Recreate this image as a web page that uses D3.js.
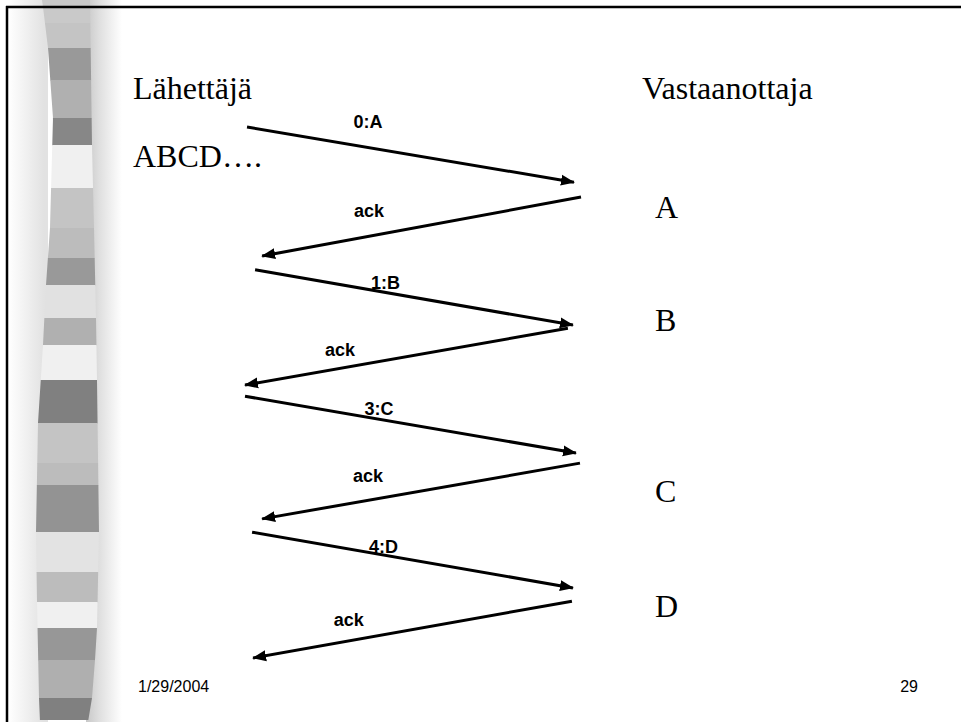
<!DOCTYPE html>
<html><head><meta charset="utf-8">
<script src="https://cdn.jsdelivr.net/npm/d3@7"></script>
<style>html,body{margin:0;padding:0;background:#fff;} svg{display:block}</style>
</head><body><svg id="c" width="961" height="722"></svg>
<script>
// ---- data ----
const messages   = ["0:A", "ack", "1:B", "ack", "3:C", "ack", "4:D", "ack"];
const sendTime   = [0, 13.2, 26.9, 37.9, 50.7, 63.3, 76.3, 89.3];
const recvTime   = [10.4, 24.3, 37.3, 48.6, 61.4, 73.8, 86.8, 100];
const sendPos    = [0.6, 100, 3.0, 96.1, 0, 99.7, 2.1, 97.3];
const recvPos    = [97.9, 5.1, 97.6, 0, 98.5, 5.1, 97.6, 2.4];
const labelAt    = [0.37, 0.665, 0.41, 0.706, 0.405, 0.667, 0.41, 0.70];
const received   = ["A", "B", "C", "D"];
const receivedAt = [17.1, 38.4, 70.6, 92.3];
const senderTitle = "Lähettäjä";
const receiverTitle = "Vastaanottaja";
const senderData = "ABCD….";
const footerDate = "1/29/2004";
const footerPage = "29";
// decorative stripe
const stripeColors = ["#c9c9c9","#c4c4c4","#999999","#b0b0b0","#878787","#f0f0f0","#c4c4c4","#bcbcbc","#999999","#e1e1e1","#b0b0b0","#f0f0f0","#808080","#c4c4c4","#bcbcbc","#939393","#e3e3e3","#bcbcbc","#f0f0f0","#979797","#afafaf","#808080"];
const stripeEnds   = [23,48,80,118,145,188,228,258,285,318,345,380,423,463,485,532,572,602,628,660,698,722];
const stripeLeftY  = [0,7,48,118,228,285,345,423,532,602,698,722];
const stripeLeftX  = [42,43,48,53,50,46,43,38,36,37,39,40];
const stripeRightY = [0,145,228,318,380,532,628,660,698,722];
const stripeRightX = [90,92,94,96,97,99,97,95,92,88];

// ---- layout ----
const W = 961, H = 722;
const svg = d3.select("#c");
const defs = svg.append("defs");
svg.append("rect").attr("width", W).attr("height", H).attr("fill", "#fff");

const x = d3.scaleLinear().domain([0, 100]).range([245, 581]);
const y = d3.scaleLinear().domain([0, 100]).range([127, 658]);

// stripe shading
const gL = defs.append("linearGradient").attr("id","gl").attr("gradientUnits","userSpaceOnUse")
  .attr("x1",8).attr("x2",44).attr("y1",0).attr("y2",0);
gL.append("stop").attr("offset",0).attr("stop-color","#ffffff");
gL.append("stop").attr("offset",1).attr("stop-color","#e2e2e2");
const gR = defs.append("linearGradient").attr("id","gr").attr("gradientUnits","userSpaceOnUse")
  .attr("x1",86).attr("x2",122).attr("y1",0).attr("y2",0);
gR.append("stop").attr("offset",0).attr("stop-color","#c8c8c8");
gR.append("stop").attr("offset",0.35).attr("stop-color","#dedede");
gR.append("stop").attr("offset",1).attr("stop-color","#ffffff");
svg.append("rect").attr("x",8).attr("y",0).attr("width",40).attr("height",H).attr("fill","url(#gl)");
svg.append("rect").attr("x",86).attr("y",0).attr("width",36).attr("height",H).attr("fill","url(#gr)");

const leftEdge = d3.scaleLinear().domain(stripeLeftY).range(stripeLeftX);
const rightEdge = d3.scaleLinear().domain(stripeRightY).range(stripeRightX);
const ys = d3.range(0, H + 1, 3);
const pts = ys.map(v => [leftEdge(v), v]).concat(ys.slice().reverse().map(v => [rightEdge(v), v]));
defs.append("clipPath").attr("id","stripe").append("path")
  .attr("d", d3.line().curve(d3.curveLinearClosed)(pts));
const sg = svg.append("g").attr("clip-path","url(#stripe)");
sg.selectAll("rect").data(stripeColors).join("rect")
  .attr("x", 30).attr("width", 75)
  .attr("y", (d,i) => i === 0 ? 0 : stripeEnds[i-1])
  .attr("height", (d,i) => stripeEnds[i] - (i === 0 ? 0 : stripeEnds[i-1]) + 0.5)
  .attr("fill", d => d);

// border
svg.append("line").attr("x1",6).attr("x2",W).attr("y1",7).attr("y2",7).attr("stroke","#000").attr("stroke-width",2.5);
svg.append("line").attr("x1",7).attr("x2",7).attr("y1",6).attr("y2",H).attr("stroke","#000").attr("stroke-width",2.5);

// arrow marker
defs.append("marker").attr("id","ah").attr("markerUnits","userSpaceOnUse")
  .attr("viewBox","0 -6 14 12").attr("markerWidth",14).attr("markerHeight",12)
  .attr("refX",13).attr("refY",0).attr("orient","auto")
  .append("path").attr("d","M0,-5.5L14,0L0,5.5Z").attr("fill","#000");

const serif = "'Liberation Serif','Times New Roman',Times,serif";
const sans = "'Liberation Sans',Arial,Helvetica,sans-serif";

// titles
svg.append("text").attr("x",133).attr("y",99).attr("font-family",serif).attr("font-size",32).text(senderTitle);
svg.append("text").attr("x",642).attr("y",99).attr("font-family",serif).attr("font-size",32).text(receiverTitle);
svg.append("text").attr("x",133).attr("y",167).attr("font-family",serif).attr("font-size",32).text(senderData);

// received letters
svg.selectAll("text.rcv").data(received).join("text").attr("class","rcv")
  .attr("x",655).attr("y",(d,i)=>y(receivedAt[i]))
  .attr("font-family",serif).attr("font-size",32).text(d=>d);

// arrows
const msgs = messages.map((m,i)=>({m, x1:x(sendPos[i]), y1:y(sendTime[i]), x2:x(recvPos[i]), y2:y(recvTime[i]), f:labelAt[i]}));
svg.selectAll("line.msg").data(msgs).join("line").attr("class","msg")
  .attr("x1",d=>d.x1).attr("y1",d=>d.y1).attr("x2",d=>d.x2).attr("y2",d=>d.y2)
  .attr("stroke","#000").attr("stroke-width",3).attr("marker-end","url(#ah)");

const labelDy = [-19,-19,-3.5,-12,-4,-18,-2,-15];
svg.selectAll("text.lbl").data(msgs).join("text").attr("class","lbl")
  .attr("x",d=>d.x1 + (d.x2-d.x1)*d.f)
  .attr("y",(d,i)=>d.y1 + (d.y2-d.y1)*d.f + labelDy[i])
  .attr("text-anchor","middle").attr("font-family",sans).attr("font-weight","bold").attr("font-size",18)
  .text(d=>d.m);

// footer
svg.append("text").attr("x",138).attr("y",692).attr("font-family",sans).attr("font-size",16).text(footerDate);
svg.append("text").attr("x",918).attr("y",692).attr("text-anchor","end").attr("font-family",sans).attr("font-size",16).text(footerPage);
</script></body></html>
